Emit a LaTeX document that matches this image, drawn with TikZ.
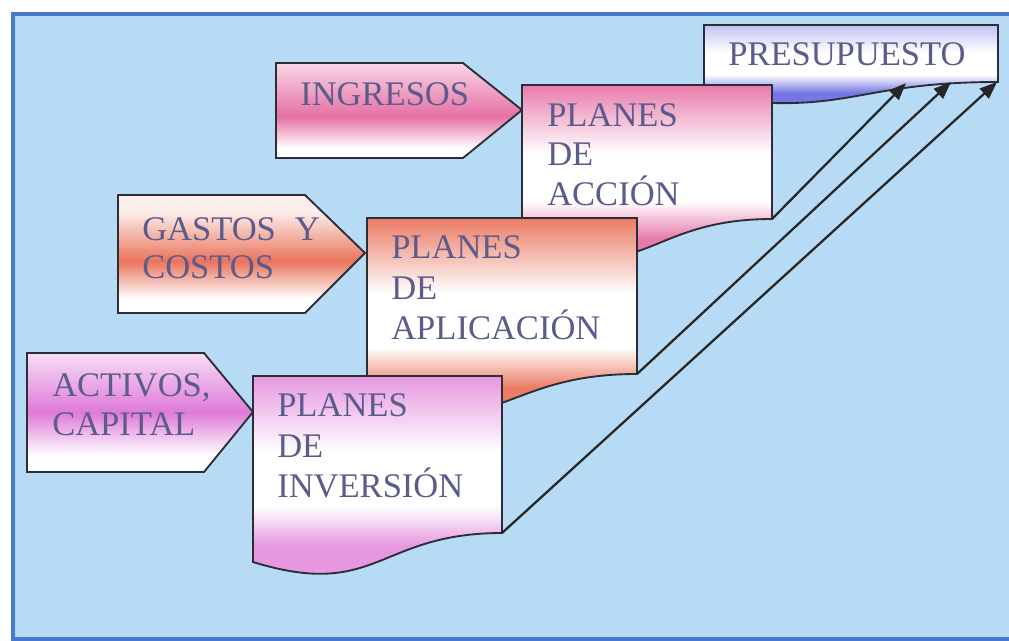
\documentclass[tikz,border=0pt]{standalone}
\usepackage{fontspec}
\setmainfont{Liberation Serif}
\usetikzlibrary{arrows.meta}
\definecolor{bgblue}{RGB}{183,219,245}
\definecolor{frameblue}{RGB}{72,122,212}
\definecolor{txt}{RGB}{92,92,140}
\definecolor{outline}{RGB}{45,45,55}
\definecolor{pinkC}{RGB}{230,112,165}
\definecolor{salmonC}{RGB}{234,116,92}
\definecolor{violetC}{RGB}{222,122,215}
\definecolor{blueC}{RGB}{118,118,228}
\colorlet{pinkL}{pinkC!28!white}
\colorlet{salmonL}{salmonC!12!white}
\colorlet{violetL}{violetC!25!white}
\colorlet{blueL}{blueC!45!white}
\colorlet{pinkB}{pinkC!92!white}
\colorlet{salmonB}{salmonC!95!white}
\colorlet{violetB}{violetC!78!white}
% pentagon shadings (bottom -> top, useful range 25bp..75bp)
\pgfdeclareverticalshading{pentpink}{100bp}{color(0bp)=(white); color(30bp)=(white); color(47bp)=(pinkC); color(75bp)=(pinkL); color(100bp)=(pinkL)}
\pgfdeclareverticalshading{pentsalmon}{100bp}{color(0bp)=(white); color(31bp)=(white); color(47bp)=(salmonC); color(68bp)=(salmonL); color(100bp)=(salmonL)}
\pgfdeclareverticalshading{pentviolet}{100bp}{color(0bp)=(white); color(32bp)=(white); color(50bp)=(violetC); color(75bp)=(violetL); color(100bp)=(violetL)}
% document-box shadings (bounding box includes the lower control point)
\pgfdeclareverticalshading{docpink}{100bp}{color(0bp)=(pinkB); color(37bp)=(pinkB); color(46bp)=(white); color(58bp)=(white); color(75bp)=(pinkB); color(100bp)=(pinkB)}
\pgfdeclareverticalshading{docsalmon}{100bp}{color(0bp)=(salmonB); color(37bp)=(salmonB); color(46bp)=(white); color(58bp)=(white); color(75bp)=(salmonB); color(100bp)=(salmonB)}
\pgfdeclareverticalshading{docviolet}{100bp}{color(0bp)=(violetB); color(37bp)=(violetB); color(46bp)=(white); color(58bp)=(white); color(75bp)=(violetB); color(100bp)=(violetB)}
\pgfdeclareverticalshading{docblue}{100bp}{color(0bp)=(blueC); color(38bp)=(blueC); color(48bp)=(white); color(60bp)=(white); color(75bp)=(blueL); color(100bp)=(blueL)}
\tikzset{
  shapeline/.style={draw=outline, line width=1.4pt, line join=miter},
  lbl/.style={anchor=base west, inner sep=0pt, text=txt, font=\fontsize{25.9}{30}\selectfont},
  conn/.style={draw=black!85, line width=1.7pt, -{Triangle[length=13pt,width=10pt]}},
}
\begin{document}
\begin{tikzpicture}[x=0.75pt,y=-0.75pt]
\useasboundingbox (0,0) rectangle (1009,640);
\fill[white] (0,0) rectangle (1009,640);
% frame
\filldraw[fill=bgblue, draw=frameblue, line width=3pt] (13,13.5) rectangle (1020,638.5);

% PRESUPUESTO
\path[shapeline, shading=docblue] (704,25) -- (998,25) -- (998,82)
  .. controls (851,82) and (851,116.9) .. (704,97) -- cycle;
\node[lbl] (presupuesto) at (728,65) {PRESUPUESTO};

% PLANES DE ACCION
\path[shapeline, shading=docpink] (522,85) -- (772,85) -- (772,219)
  .. controls (647,219) and (647,286.3) .. (522,248) -- cycle;
\node[lbl] (acc1) at (547,126) {PLANES};
\node[lbl] (acc2) at (547,165) {DE};
\node[lbl] (acc3) at (547,205) {ACCIÓN};

% INGRESOS
\path[shapeline, shading=pentpink] (276,63) -- (463,63) -- (522,110) -- (463,158) -- (276,158) -- cycle;
\node[lbl] (ingresos) at (300,105) {INGRESOS};

% PLANES DE APLICACION
\path[shapeline, shading=docsalmon] (367,218) -- (637,218) -- (637,374)
  .. controls (502,374) and (502,441.3) .. (367,403) -- cycle;
\node[lbl] (apl1) at (391,258) {PLANES};
\node[lbl] (apl2) at (391,299) {DE};
\node[lbl] (apl3) at (391,339) {APLICACIÓN};

% GASTOS Y COSTOS
\path[shapeline, shading=pentsalmon] (118,195) -- (305,195) -- (365,253) -- (305,313) -- (118,313) -- cycle;
\node[lbl] (gas1) at (142,240) {GASTOS\hspace{0.55em}Y};
\node[lbl] (gas2) at (142,278) {COSTOS};

% PLANES DE INVERSION
\path[shapeline, shading=docviolet] (253,376) -- (502,376) -- (502,533)
  .. controls (377.5,533) and (377.5,600.3) .. (253,562) -- cycle;
\node[lbl] (inv1) at (277,416) {PLANES};
\node[lbl] (inv2) at (277,457) {DE};
\node[lbl] (inv3) at (277,497) {INVERSIÓN};

% ACTIVOS, CAPITAL
\path[shapeline, shading=pentviolet] (27,353) -- (204,353) -- (253,412) -- (204,472) -- (27,472) -- cycle;
\node[lbl] (act1) at (52,396) {ACTIVOS,};
\node[lbl] (act2) at (52,435) {CAPITAL};

% connector ends
\coordinate (accionBR) at (772,219);
\coordinate (aplicBR) at (637,374);
\coordinate (inverBR) at (502,533);
\coordinate (presA) at (906,83);
\coordinate (presB) at (951,82);
\coordinate (presC) at (997,82);

\draw[conn] (accionBR) -- (presA);
\draw[conn] (aplicBR) -- (presB);
\draw[conn] (inverBR) -- (presC);
\end{tikzpicture}
\end{document}
